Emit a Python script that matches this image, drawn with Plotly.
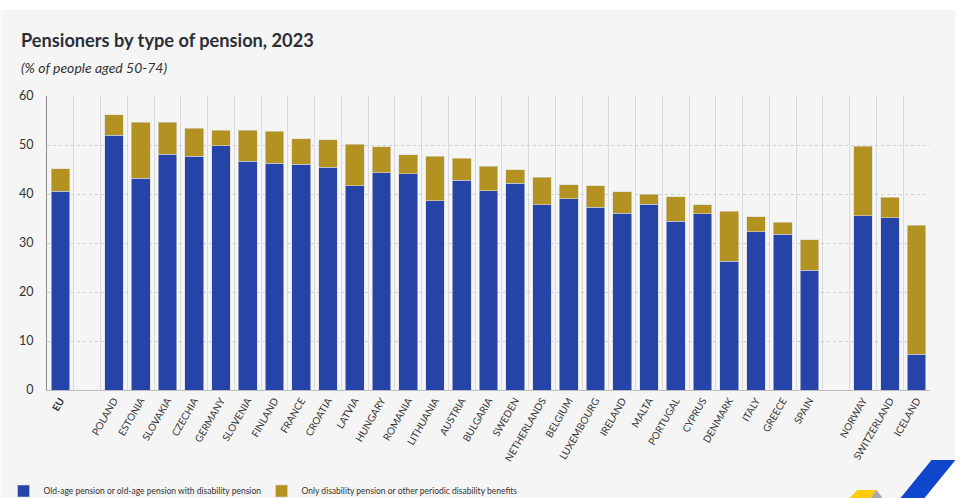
import plotly.graph_objects as go

categories = ["<b>EU</b>", " ", "POLAND", "ESTONIA", "SLOVAKIA", "CZECHIA", "GERMANY", "SLOVENIA", "FINLAND",
              "FRANCE", "CROATIA", "LATVIA", "HUNGARY", "ROMANIA", "LITHUANIA", "AUSTRIA", "BULGARIA", "SWEDEN",
              "NETHERLANDS", "BELGIUM", "LUXEMBOURG", "IRELAND", "MALTA", "PORTUGAL", "CYPRUS", "DENMARK", "ITALY",
              "GREECE", "SPAIN", "  ", "NORWAY", "SWITZERLAND", "ICELAND"]
old_age = [40.6, None, 52.0, 43.2, 48.1, 47.7, 49.8, 46.7, 46.3, 46.1, 45.5, 41.7, 44.3, 44.1, 38.6, 42.8, 40.7, 42.2,
           37.8, 39.0, 37.3, 36.1, 37.9, 34.4, 36.0, 26.3, 32.3, 31.8, 24.4, None, 35.6, 35.2, 7.3]
disability = [4.6, None, 4.2, 11.4, 6.5, 5.7, 3.2, 6.3, 6.5, 5.2, 5.6, 8.5, 5.3, 3.9, 9.1, 4.5, 5.0, 2.8,
              5.6, 2.9, 4.4, 4.4, 2.1, 5.0, 1.8, 10.2, 3.1, 2.4, 6.3, None, 14.1, 4.1, 26.3]
series_names = ["Old-age pension or old-age pension with disability pension",
                "Only disability pension or other periodic disability benefits"]
title = "Pensioners by type of pension, 2023"
subtitle = "(% of people aged 50-74)"

FONT = "Lato, sans-serif"
W, H = 965, 498
L, R, T, B = 46.5, 930.5, 96.0, 390.0
px = lambda x: (x - L) / (R - L)
py = lambda y: (B - y) / (B - T)

fig = go.Figure()
for name, vals, col in [(series_names[0], old_age, "#2644A7"), (series_names[1], disability, "#B39222")]:
    fig.add_bar(x=categories, y=vals, name=name, width=0.7,
                marker=dict(color=col, line=dict(color="#D9D9D9", width=0.6)))

shapes = [
    dict(type="rect", xref="paper", yref="paper", x0=px(0), x1=px(956), y0=py(498), y1=py(10),
         fillcolor="#F5F5F5", line_width=0, layer="below"),
    dict(type="path", xref="paper", yref="paper", layer="above", fillcolor="#FFFFFF", line_width=0,
         path=f"M {px(956)} {py(460)} L {px(965)} {py(460)} L {px(965)} {py(498)} L {px(925)} {py(498)} Z"),
    dict(type="path", xref="paper", yref="paper", layer="above", fillcolor="#0E47CB", line_width=0,
         path=f"M {px(932)} {py(460)} L {px(956)} {py(460)} L {px(925)} {py(498)} L {px(901)} {py(498)} Z"),
    dict(type="path", xref="paper", yref="paper", layer="above", fillcolor="#FFCC00", line_width=0,
         path=f"M {px(858)} {py(490)} L {px(877)} {py(490)} L {px(871)} {py(498)} L {px(850)} {py(498)} Z"),
    dict(type="path", xref="paper", yref="paper", layer="above", fillcolor="#AAAAAA", line_width=0,
         path=f"M {px(877)} {py(490)} L {px(883)} {py(498)} L {px(871)} {py(498)} Z"),
]

annotations = [
    dict(text=f"<b>{title}</b>", xref="paper", yref="paper", x=px(18), y=py(40), xanchor="left", yanchor="middle",
         showarrow=False, font=dict(family=FONT, size=18.2, color="#2B2F36")),
    dict(text=f"<i>{subtitle}</i>", xref="paper", yref="paper", x=px(18), y=py(68), xanchor="left", yanchor="middle",
         showarrow=False, font=dict(family=FONT, size=14, color="#333333")),
]

fig.update_layout(
    width=W, height=H, autosize=False, barmode="stack",
    paper_bgcolor="#FFFFFF", plot_bgcolor="#F5F5F5",
    margin=dict(l=L, r=W - R, t=T, b=H - B, autoexpand=False),
    font=dict(family=FONT, size=12, color="#333333"),
    shapes=shapes, annotations=annotations,
    legend=dict(orientation="h", x=px(3), y=py(491), xanchor="left", yanchor="middle",
                bgcolor="rgba(0,0,0,0)", font=dict(family=FONT, size=8.5, color="#333333"),
                traceorder="normal", itemwidth=30, entrywidth=213, entrywidthmode="pixels"),
    xaxis=dict(type="category", categoryorder="array", categoryarray=categories, tickmode="array",
               tickvals=categories, ticktext=categories, tickangle=-60, tickson="boundaries",
               showgrid=True, gridcolor="#DADADC", gridwidth=1, ticks="", ticklen=0,
               showline=True, linecolor="#BDBDBD", linewidth=1,
               tickfont=dict(family=FONT, size=10, color="#333333"), range=[-0.5, 32.5]),
    yaxis=dict(range=[0, 60], tickvals=[0, 10, 20, 30, 40, 50, 60], showgrid=True, gridcolor="#CFCFCF",
               griddash="dot", gridwidth=1, showline=True, linecolor="#8C8C8C", linewidth=1, zeroline=False,
               ticks="", ticklabelstandoff=10, tickfont=dict(family=FONT, size=12.5, color="#333333")),
)
fig.write_html("out.html", config=dict(displayModeBar=False),
               post_script="document.body.style.margin='0';")
